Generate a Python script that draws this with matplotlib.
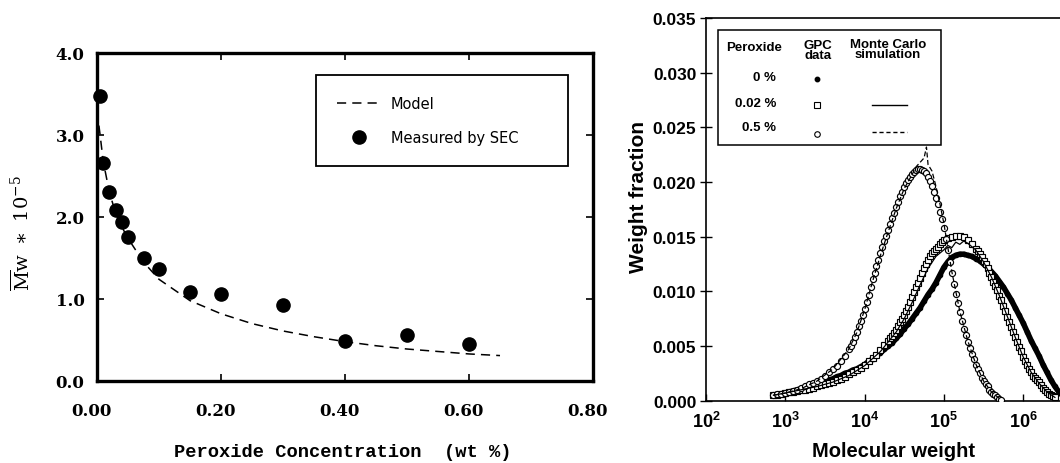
import numpy as np
import matplotlib
matplotlib.use("Agg")
import matplotlib.pyplot as plt
from matplotlib.lines import Line2D
from matplotlib.patches import Rectangle
import matplotlib.transforms as mtransforms
from matplotlib.ticker import FixedLocator, FixedFormatter, NullLocator

plt.rcParams['mathtext.fontset'] = 'custom'
plt.rcParams['mathtext.rm'] = 'Liberation Sans:bold'
plt.rcParams['mathtext.it'] = 'Liberation Sans:bold:italic'
plt.rcParams['mathtext.bf'] = 'Liberation Sans:bold'

# ---------------- Left panel data ----------------
peroxide_meas = [0.005, 0.01, 0.02, 0.03, 0.04, 0.05, 0.075, 0.10, 0.15, 0.20, 0.30, 0.40, 0.50, 0.60]
mw_meas = [3.47, 2.66, 2.31, 2.08, 1.94, 1.76, 1.50, 1.36, 1.09, 1.06, 0.93, 0.49, 0.56, 0.45]

peroxide_model = [0.0, 0.005, 0.01, 0.02, 0.03, 0.04, 0.05, 0.075, 0.10, 0.15, 0.20, 0.25,
                  0.30, 0.35, 0.40, 0.45, 0.50, 0.55, 0.60, 0.65]
mw_model = [3.30, 3.00, 2.68, 2.30, 2.05, 1.88, 1.74, 1.45, 1.24, 0.98, 0.82, 0.70,
            0.61, 0.54, 0.48, 0.43, 0.39, 0.36, 0.33, 0.31]

left_xticks = [0.0, 0.2, 0.4, 0.6, 0.8]
left_xticklabels = ['0.00', '0.20', '0.40', '0.60', '0.80']
left_yticks = [0.0, 1.0, 2.0, 3.0, 4.0]
left_yticklabels = ['0.0', '1.0', '2.0', '3.0', '4.0']

# ---------------- Right panel data (log10 of molecular weight) ----------------
# 0 % peroxide, GPC data
logm_0 = [2.85, 2.90, 2.95, 3.00, 3.05, 3.10, 3.15, 3.20, 3.25, 3.30, 3.35, 3.40, 3.45, 3.50,
          3.55, 3.60, 3.65, 3.70, 3.75, 3.80, 3.85, 3.90, 3.95, 4.00, 4.05, 4.10, 4.15, 4.20,
          4.25, 4.30, 4.35, 4.40, 4.45, 4.50, 4.55, 4.60, 4.65, 4.70, 4.75, 4.80, 4.85, 4.90,
          4.95, 5.00, 5.05, 5.10, 5.15, 5.20, 5.25, 5.30, 5.35, 5.40, 5.45, 5.50, 5.55, 5.60,
          5.65, 5.70, 5.75, 5.80, 5.85, 5.90, 5.95, 6.00, 6.05, 6.10, 6.15, 6.20, 6.25, 6.30,
          6.35, 6.40, 6.45, 6.50, 6.55]
wf_0 = [0.0005, 0.0006, 0.0006, 0.0007, 0.0008, 0.0009, 0.0010, 0.0011, 0.0012, 0.0013, 0.0014,
        0.0015, 0.0016, 0.0018, 0.0019, 0.0020, 0.0022, 0.0023, 0.0025, 0.0026, 0.0028, 0.0029,
        0.0031, 0.0033, 0.0036, 0.0038, 0.0041, 0.0044, 0.0047, 0.0050, 0.0053, 0.0057, 0.0061,
        0.0066, 0.0070, 0.0075, 0.0080, 0.0085, 0.0091, 0.0097, 0.0102, 0.0108, 0.0115, 0.0122,
        0.0127, 0.0131, 0.0133, 0.0134, 0.0134, 0.0133, 0.0132, 0.0130, 0.0128, 0.0125, 0.0122,
        0.0118, 0.0114, 0.0109, 0.0104, 0.0098, 0.0092, 0.0085, 0.0078, 0.0071, 0.0063, 0.0055,
        0.0048, 0.0041, 0.0033, 0.0026, 0.0019, 0.0013, 0.0008, 0.0004, 0.0002]

# 0.02 % peroxide, GPC data
logm_002 = [2.85, 2.90, 2.95, 3.00, 3.05, 3.10, 3.15, 3.20, 3.25, 3.30, 3.35, 3.40, 3.45, 3.50,
            3.55, 3.60, 3.65, 3.70, 3.75, 3.80, 3.85, 3.90, 3.95, 4.00, 4.05, 4.10, 4.15, 4.20,
            4.25,
            4.300, 4.325, 4.350, 4.375, 4.400, 4.425, 4.450, 4.475, 4.500, 4.525, 4.550, 4.575,
            4.600, 4.625, 4.650, 4.675, 4.700, 4.725, 4.750, 4.775, 4.800, 4.825, 4.850, 4.875,
            4.900, 4.925, 4.950, 4.975, 5.000,
            5.05, 5.10, 5.15, 5.20, 5.25, 5.30, 5.35,
            5.400, 5.425, 5.450, 5.475, 5.500, 5.525, 5.550, 5.575, 5.600, 5.625, 5.650, 5.675,
            5.700, 5.725, 5.750, 5.775, 5.800, 5.825, 5.850, 5.875, 5.900, 5.925, 5.950, 5.975,
            6.000, 6.025, 6.050, 6.075, 6.100, 6.125, 6.150, 6.175, 6.200, 6.225, 6.250, 6.275,
            6.300, 6.325, 6.350, 6.375, 6.400]
wf_002 = [0.0005, 0.0005, 0.0006, 0.0007, 0.0008, 0.0008, 0.0009, 0.0010, 0.0010, 0.0011, 0.0012,
          0.0013, 0.0014, 0.0015, 0.0016, 0.0017, 0.0019, 0.0020, 0.0022, 0.0024, 0.0026, 0.0028,
          0.0030, 0.0033, 0.0036, 0.0039, 0.0042, 0.0046, 0.0051,
          0.0055, 0.0057, 0.0059, 0.0062, 0.0065, 0.0068, 0.0072, 0.0075, 0.0078, 0.0082, 0.0086,
          0.0090, 0.0095, 0.0099, 0.0104, 0.0108, 0.0112, 0.0117, 0.0121, 0.0125, 0.0129, 0.0132,
          0.0135, 0.0137, 0.0139, 0.0141, 0.0143, 0.0145, 0.0147,
          0.0149, 0.0150, 0.0151, 0.0151, 0.0150, 0.0147, 0.0143,
          0.0139, 0.0137, 0.0134, 0.0131, 0.0128, 0.0125, 0.0121, 0.0117, 0.0113, 0.0109, 0.0105,
          0.0101, 0.0096, 0.0092, 0.0087, 0.0082, 0.0077, 0.0072, 0.0067, 0.0063, 0.0058, 0.0054,
          0.0049, 0.0045, 0.0040, 0.0036, 0.0033, 0.0029, 0.0026, 0.0023, 0.0021, 0.0019, 0.0017,
          0.0014, 0.0012, 0.0010, 0.0008, 0.0006, 0.0005, 0.0004, 0.0003]

# 0.02 % peroxide, Monte Carlo simulation
logm_002_sim = [2.85, 3.0, 3.2, 3.4, 3.6, 3.8, 4.0, 4.2, 4.4, 4.5, 4.6, 4.7, 4.8, 4.9, 5.0, 5.05,
                5.1, 5.15, 5.2, 5.25, 5.3, 5.4, 5.5, 5.6, 5.7, 5.8, 5.9, 6.0, 6.1, 6.2, 6.3, 6.4]
wf_002_sim = [0.0005, 0.0007, 0.0010, 0.0013, 0.0017, 0.0023, 0.0032, 0.0045, 0.0063, 0.0075,
              0.0090, 0.0106, 0.0121, 0.0132, 0.0138, 0.0142, 0.0140, 0.0145, 0.0143, 0.0146,
              0.0144, 0.0138, 0.0127, 0.0113, 0.0096, 0.0077, 0.0058, 0.0040, 0.0026, 0.0016,
              0.0008, 0.0003]

# 0.5 % peroxide, GPC data
logm_05 = [2.85, 2.90, 2.95, 3.00, 3.05, 3.10, 3.15, 3.20, 3.25, 3.30, 3.35, 3.40, 3.45, 3.50,
           3.55, 3.60, 3.65, 3.70, 3.75,
           3.800, 3.825, 3.850, 3.875, 3.900, 3.925, 3.950, 3.975, 4.000, 4.025, 4.050, 4.075,
           4.100, 4.125, 4.150, 4.175, 4.200, 4.225, 4.250, 4.275, 4.300, 4.325, 4.350, 4.375,
           4.400, 4.425, 4.450, 4.475, 4.500, 4.525, 4.550, 4.575, 4.600, 4.625, 4.650, 4.675,
           4.700, 4.725, 4.750, 4.775, 4.800, 4.825, 4.850, 4.875, 4.900, 4.925, 4.950, 4.975,
           5.000, 5.025, 5.050, 5.075, 5.100, 5.125, 5.150, 5.175, 5.200, 5.225, 5.250, 5.275,
           5.300, 5.325, 5.350, 5.375, 5.400, 5.425, 5.450, 5.475, 5.500, 5.525, 5.550, 5.575,
           5.600, 5.625, 5.650, 5.675, 5.700, 5.725]
wf_05 = [0.0005, 0.0006, 0.0006, 0.0007, 0.0008, 0.0009, 0.0010, 0.0012, 0.0013, 0.0015, 0.0016,
         0.0018, 0.0020, 0.0023, 0.0026, 0.0029, 0.0032, 0.0036, 0.0041,
         0.0047, 0.0050, 0.0054, 0.0058, 0.0063, 0.0068, 0.0073, 0.0078, 0.0084, 0.0090, 0.0097,
         0.0104, 0.0111, 0.0117, 0.0123, 0.0129, 0.0135, 0.0141, 0.0146, 0.0151, 0.0156, 0.0162,
         0.0167, 0.0172, 0.0177, 0.0182, 0.0187, 0.0191, 0.0195, 0.0199, 0.0202, 0.0205, 0.0207,
         0.0209, 0.0211, 0.0212, 0.0212, 0.0211, 0.0210, 0.0208, 0.0205, 0.0201, 0.0196, 0.0191,
         0.0185, 0.0180, 0.0173, 0.0166, 0.0158, 0.0148, 0.0138, 0.0127, 0.0117, 0.0107, 0.0098,
         0.0089, 0.0081, 0.0073, 0.0066, 0.0060, 0.0054, 0.0048, 0.0043, 0.0038, 0.0033, 0.0029,
         0.0025, 0.0021, 0.0018, 0.0015, 0.0013, 0.0010, 0.0008, 0.0006, 0.0005, 0.0003, 0.0002,
         0.0001]

# 0.5 % peroxide, Monte Carlo simulation
logm_05_sim = [2.85, 3.0, 3.2, 3.4, 3.6, 3.8, 3.9, 4.0, 4.1, 4.2, 4.3, 4.4, 4.5, 4.6, 4.65, 4.7,
               4.75, 4.78, 4.8, 4.85, 4.9, 4.95, 5.0, 5.05, 5.1, 5.2, 5.3, 5.4, 5.5, 5.6, 5.7]
wf_05_sim = [0.0005, 0.0007, 0.0011, 0.0018, 0.0029, 0.0047, 0.0062, 0.0083, 0.0109, 0.0133,
             0.0155, 0.0176, 0.0194, 0.0207, 0.0214, 0.0218, 0.0222, 0.0232, 0.0216, 0.0210,
             0.0196, 0.0180, 0.0162, 0.0140, 0.0118, 0.0082, 0.0055, 0.0034, 0.0018, 0.0008,
             0.0002]

right_xexp = [2, 3, 4, 5, 6]
right_yticks = [0.000, 0.005, 0.010, 0.015, 0.020, 0.025, 0.030, 0.035]
right_yticklabels = ['0.000', '0.005', '0.010', '0.015', '0.020', '0.025', '0.030', '0.035']

legend_rows = ['0 %', '0.02 %', '0.5 %']

# ---------------- Figure ----------------
W, H = 1060, 464
fig = plt.figure(figsize=(W / 100, H / 100), dpi=100)
fig.patch.set_facecolor('white')


def fpos(x0, y0, x1, y1):
    """pixel box (left, top, right, bottom) -> figure rect"""
    return [x0 / W, 1 - y1 / H, (x1 - x0) / W, (y1 - y0) / H]


def fp(px, py):
    return (px / W, 1 - py / H)


# ===== Left panel =====
axL = fig.add_axes(fpos(97, 54, 593, 382))
axL.plot(peroxide_model, mw_model, color='black', lw=1.1, dashes=(6, 4), label='Model')
axL.plot(peroxide_meas, mw_meas, 'o', color='black', ms=9.5, label='Measured by SEC',
         clip_on=False, zorder=3)
axL.set_xlim(0, 0.8)
axL.set_ylim(0, 4.0)
axL.set_xticks(left_xticks)
axL.set_xticklabels(left_xticklabels)
axL.set_yticks(left_yticks)
axL.set_yticklabels(left_yticklabels)
for sp in axL.spines.values():
    sp.set_linewidth(2.4)
axL.tick_params(direction='in', length=5, width=1.2, top=True, right=True)
axL.tick_params(axis='x', pad=15)
axL.tick_params(axis='y', pad=9)
for lab in axL.get_xticklabels() + axL.get_yticklabels():
    lab.set_fontfamily('DejaVu Serif')
    lab.set_fontsize(12)
    lab.set_fontweight('bold')
shift = mtransforms.ScaledTranslation(-6 / 100, 0, fig.dpi_scale_trans)
for lab in axL.get_xticklabels():
    lab.set_transform(lab.get_transform() + shift)

axL.set_xlabel('Peroxide Concentration  (wt %)', fontfamily='Liberation Mono',
               fontweight='bold', fontsize=13.5)
axL.xaxis.set_label_coords((343 - 97) / 496, (382 - 453) / 328)
axL.xaxis.label.set_verticalalignment('center')
axL.set_ylabel(r'$\overline{\mathrm{M}}\mathrm{w}\ \ast\ 10^{-5}$', fontsize=14,
               math_fontfamily='dejavuserif')
axL.yaxis.set_label_coords((22 - 97) / 496, (382 - 233) / 328)
axL.yaxis.label.set_verticalalignment('center')

legL = axL.legend(loc='upper left',
                  bbox_to_anchor=((316 - 97) / 496, (382 - 164) / 328, 252 / 496, 88 / 328),
                  mode='expand', borderaxespad=0, fancybox=False, frameon=True,
                  handlelength=3.0, handletextpad=0.7, borderpad=1.45, labelspacing=1.3,
                  prop={'family': 'DejaVu Sans', 'size': 10.5})
legL.get_frame().set_edgecolor('black')
legL.get_frame().set_linewidth(1.3)
legL.get_frame().set_alpha(1)

# ===== Right panel =====
axR = fig.add_axes(fpos(706, 19, 1102.5, 401.7))
xs = lambda lst: [10 ** v for v in lst]
axR.plot(xs(logm_0), wf_0, '-', color='black', lw=4.0, zorder=2, solid_capstyle='round')
axR.plot(xs(logm_0), wf_0, 'o', color='black', ms=3.0, zorder=2)
axR.plot(xs(logm_002), wf_002, 's', mfc='white', mec='black', mew=0.85, ms=4.2, ls='none', zorder=3)
axR.plot(xs(logm_05), wf_05, 'o', mfc='white', mec='black', mew=0.85, ms=4.4, ls='none', zorder=3)
axR.plot(xs(logm_002_sim), wf_002_sim, '-', color='black', lw=0.9, zorder=4)
axR.plot(xs(logm_05_sim), wf_05_sim, color='black', lw=0.9, dashes=(4, 2), zorder=4)

axR.set_xscale('log')
axR.set_xlim(1e2, 1e7)
axR.set_ylim(0, 0.035)
axR.xaxis.set_major_locator(FixedLocator([10.0 ** e for e in right_xexp]))
axR.xaxis.set_major_formatter(FixedFormatter([r'$\mathbf{10^{%d}}$' % e for e in right_xexp]))
axR.xaxis.set_minor_locator(NullLocator())
axR.set_yticks(right_yticks)
axR.set_yticklabels(right_yticklabels)
for sp in axR.spines.values():
    sp.set_linewidth(1.2)
axR.tick_params(axis='x', direction='in', length=5, width=1.0, pad=7, labelsize=13)
axR.tick_params(axis='y', direction='inout', length=8, width=1.0, pad=3)
for lab in axR.get_yticklabels():
    lab.set_fontfamily('Liberation Sans')
    lab.set_fontweight('bold')
    lab.set_fontsize(12.5)

axR.set_xlabel('Molecular weight', fontfamily='Liberation Sans', fontweight='bold', fontsize=14.5)
axR.xaxis.set_label_coords((893 - 706) / 396.5, (401.7 - 452) / 382.7)
axR.xaxis.label.set_verticalalignment('center')
axR.set_ylabel('Weight fraction', fontfamily='Liberation Sans', fontweight='bold', fontsize=15)
axR.yaxis.set_label_coords((638 - 706) / 396.5, (401.7 - 197) / 382.7)
axR.yaxis.label.set_verticalalignment('center')

# right legend table
fig.patches.append(Rectangle(fp(717.5, 145.5), (940.5 - 717.5) / W, (145.5 - 30.5) / H,
                             transform=fig.transFigure, fill=False, edgecolor='black', lw=1.1,
                             zorder=5))
tk = dict(fontfamily='Liberation Sans', fontweight='bold', fontsize=9.5, transform=fig.transFigure,
          zorder=6)
fig.text(*fp(754, 48), 'Peroxide', ha='center', va='center', **tk)
fig.text(*fp(818, 51), 'GPC\ndata', ha='center', va='center', linespacing=0.85, **tk)
fig.text(*fp(888, 50), 'Monte Carlo\nsimulation', ha='center', va='center', linespacing=0.85, **tk)
for row, yy in zip(legend_rows, [78, 104, 128]):
    fig.text(*fp(776, yy), row, ha='right', va='center', **tk)
fig.lines.append(Line2D([817 / W], [1 - 80 / H], transform=fig.transFigure, marker='o',
                        color='black', ms=3.2, ls='none'))
fig.lines.append(Line2D([817 / W], [1 - 106 / H], transform=fig.transFigure, marker='s',
                        mfc='white', mec='black', mew=0.8, ms=3.8, ls='none'))
fig.lines.append(Line2D([817 / W], [1 - 135 / H], transform=fig.transFigure, marker='o',
                        mfc='white', mec='black', mew=0.8, ms=4.0, ls='none'))
fig.lines.append(Line2D([872 / W, 907 / W], [1 - 106 / H] * 2, transform=fig.transFigure,
                        color='black', lw=1.0))
fig.lines.append(Line2D([872 / W, 907 / W], [1 - 133 / H] * 2, transform=fig.transFigure,
                        color='black', lw=1.0, dashes=(3, 2)))

fig.savefig('out.png', dpi=100, facecolor='white')
